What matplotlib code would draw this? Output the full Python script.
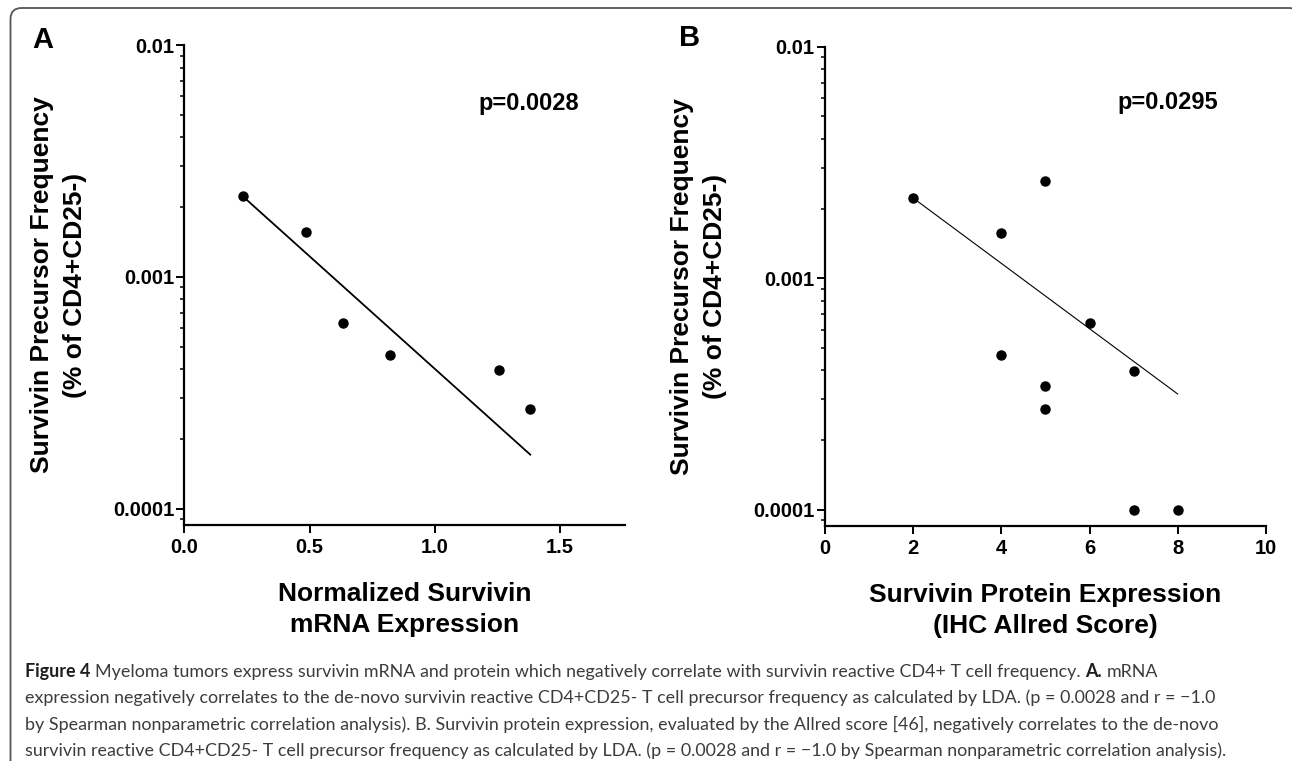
import matplotlib
matplotlib.use("Agg")
import matplotlib.pyplot as plt
from matplotlib.patches import FancyBboxPatch
from matplotlib.ticker import LogLocator, NullFormatter
import numpy as np

# Panel A: normalized survivin mRNA vs precursor frequency
mrna_x = [0.232, 0.486, 0.632, 0.821, 1.257, 1.381]
mrna_freq = [0.00223, 0.00156, 0.000634, 0.000461, 0.000397, 0.00027]
mrna_fit_x = [0.232, 1.381]
mrna_fit_y = [0.00223, 0.000171]
mrna_xticks = [0.0, 0.5, 1.0, 1.5]
mrna_xticklabels = ["0.0", "0.5", "1.0", "1.5"]
mrna_p = "p=0.0028"

# Panel B: Allred score vs precursor frequency
allred_x = [2, 4, 4, 5, 5, 5, 6, 7, 7, 8]
allred_freq = [0.00222, 0.00156, 0.000464, 0.00262, 0.000342, 0.000272,
               0.000638, 0.000397, 0.0001, 0.0001]
allred_fit_x = [2, 8]
allred_fit_y = [0.00222, 0.000316]
allred_xticks = [0, 2, 4, 6, 8, 10]
allred_xticklabels = ["0", "2", "4", "6", "8", "10"]
allred_p = "p=0.0295"

yticks = [0.0001, 0.001, 0.01]
yticklabels = ["0.0001", "0.001", "0.01"]
ylabel = "Survivin Precursor Frequency\n(% of CD4+CD25-)"

caption = [
    [("Figure 4", True),
     ("Myeloma tumors express survivin mRNA and protein which negatively correlate with survivin reactive CD4+ T cell frequency.", False),
     ("A.", True), ("mRNA", False)],
    [("expression negatively correlates to the de-novo survivin reactive CD4+CD25- T cell precursor frequency as calculated by LDA. (p = 0.0028 and r = \u22121.0", False)],
    [("by Spearman nonparametric correlation analysis). B. Survivin protein expression, evaluated by the Allred score [46], negatively correlates to the de-novo", False)],
    [("survivin reactive CD4+CD25- T cell precursor frequency as calculated by LDA. (p = 0.0028 and r = \u22121.0 by Spearman nonparametric correlation analysis).", False)],
]
# right end of each caption line in the reference (px)
caption_ends = [1255, 1253, 1220, 1222]

W, H = 1292, 761
plt.rcParams['font.family'] = ['Liberation Sans', 'DejaVu Sans']
fig = plt.figure(figsize=(W / 100, H / 100), dpi=100)

# rounded frame around the figure (open at the bottom, right side off the edge)
frame = fig.add_axes([0, 0, 1, 1], zorder=-1)
frame.set_xlim(0, W)
frame.set_ylim(H, 0)
frame.axis("off")
frame.add_patch(FancyBboxPatch((10.5, 8), W + 8 - 10.5, 820,
                               boxstyle="round,pad=0,rounding_size=11",
                               fill=False, ec="#555555", lw=1.3))


def style_axes(ax, xlim, xticks, xticklabels, xlabel):
    ax.set_yscale("log")
    ax.set_ylim(8.5e-5, 0.01)
    ax.set_xlim(*xlim)
    ax.set_yticks(yticks)
    ax.set_yticklabels(yticklabels)
    ax.yaxis.set_minor_locator(LogLocator(base=10, subs=np.arange(2, 10)))
    ax.yaxis.set_minor_formatter(NullFormatter())
    ax.set_xticks(xticks)
    ax.set_xticklabels(xticklabels)
    for s in ["top", "right"]:
        ax.spines[s].set_visible(False)
    for s in ["left", "bottom"]:
        ax.spines[s].set_linewidth(1.6)
    ax.tick_params(which="major", direction="out", length=5.5, width=1.4,
                   labelsize=14.5, pad=2)
    ax.tick_params(axis="x", which="major", pad=4)
    ax.tick_params(which="minor", direction="out", length=3, width=1.1)
    for lab in ax.get_xticklabels() + ax.get_yticklabels():
        lab.set_fontweight("bold")
    ax.set_ylabel(ylabel, fontsize=19, fontweight="bold", linespacing=1.45)
    ax.yaxis.set_label_coords(-0.222, 0.5)
    ax.set_xlabel(xlabel, fontsize=19, fontweight="bold", linespacing=1.4)
    ax.xaxis.set_label_coords(0.5, -0.118)


axA = fig.add_axes([0.1428, 0.3101, 0.3411, 0.6307])
axA.plot(mrna_x, mrna_freq, "o", color="black", ms=6.5)
axA.plot(mrna_fit_x, mrna_fit_y, "-", color="black", lw=1.3)
style_axes(axA, (0, 1.76), mrna_xticks, mrna_xticklabels,
           "Normalized Survivin\nmRNA Expression")
axA.text(0.781, 0.879, mrna_p, transform=axA.transAxes, fontsize=17,
         fontweight="bold", ha="center", va="center")

axB = fig.add_axes([0.6385, 0.3088, 0.3413, 0.6298])
axB.plot(allred_x, allred_freq, "o", color="black", ms=6.5)
axB.plot(allred_fit_x, allred_fit_y, "-", color="black", lw=0.8)
style_axes(axB, (0, 10), allred_xticks, allred_xticklabels,
           "Survivin Protein Expression\n(IHC Allred Score)")
axB.text(0.778, 0.883, allred_p, transform=axB.transAxes, fontsize=17,
         fontweight="bold", ha="center", va="center")

# panel letters
fig.text(43 / W, 1 - 40 / H, "A", fontsize=21, fontweight="bold", ha="center", va="center")
fig.text(690 / W, 1 - 38 / H, "B", fontsize=21, fontweight="bold", ha="center", va="center")

# caption with mixed bold / regular runs
r = fig.canvas.get_renderer()
cap_font = ['Lato', 'DejaVu Sans']


def text_width(s, size, bold):
    t = fig.text(0, 0, s, fontsize=size, family=cap_font,
                 fontweight="bold" if bold else "normal")
    w = t.get_window_extent(r).width
    t.remove()
    return w


def line_width(runs, size):
    sp = text_width("a a", size, False) - text_width("aa", size, False)
    return sum(text_width(s, size, b) for s, b in runs) + sp * (len(runs) - 1)


x0, y0, dy = 25, 677, 26.3
base = 12
size = base * min((end - x0) / line_width(runs, base)
                  for runs, end in zip(caption, caption_ends))
space = text_width("a a", size, False) - text_width("aa", size, False)
for i, runs in enumerate(caption):
    x = x0
    for s, b in runs:
        t = fig.text(x / W, 1 - (y0 + i * dy) / H, s, fontsize=size, family=cap_font,
                     fontweight="bold" if b else "normal",
                     color="#1e1e1e" if b else "#3c3c3c", ha="left", va="baseline")
        x += t.get_window_extent(r).width + space

fig.savefig("out.png", dpi=100)
